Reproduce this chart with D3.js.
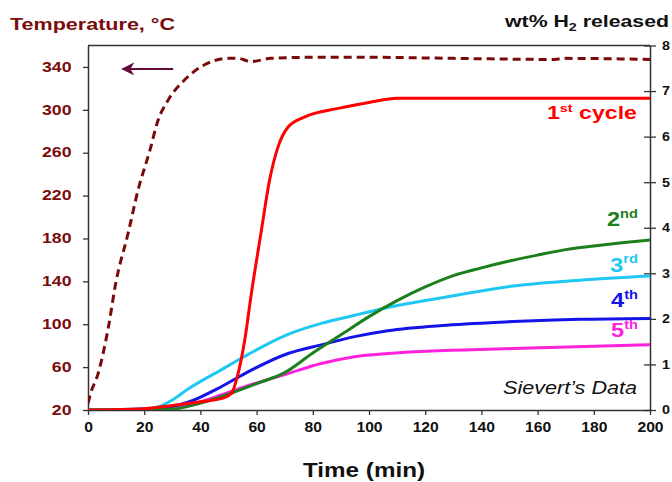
<!DOCTYPE html>
<html><head><meta charset="utf-8">
<script src="https://cdn.jsdelivr.net/npm/d3@7"></script>
<style>body{margin:0;background:#fff}svg{display:block}text{font-family:"Liberation Sans",Arial,sans-serif}</style>
</head><body><svg id="c" width="672" height="482"></svg>
<script>
const xTicks=[0,20,40,60,80,100,120,140,160,180,200];
const tempTicks=[20,60,100,140,180,220,260,300,340];
const wtTicks=[0,1,2,3,4,5,6,7,8];
// Temperature (left axis)
const tempTime=[0,1,3.6,7.1,10,14.2,17.8,22,24.9,28.5,34.4,41.5,49.8,53.4,58,65,80,100,130,165,170,200];
const tempVal=[26,36,54,95,140,184,225,262,290,309,328,342,348,348,345,348,349,349,348,347,348,347];
// wt% H2 released (right axis)
const c1Time=[0,20,30,40,48,51,53,55.8,58,61.6,64.6,67.6,71.2,77,89,100,110,200];
const c1Val=[0,0.03,0.1,0.18,0.26,0.36,0.7,1.54,2.5,3.9,5.04,5.77,6.21,6.43,6.62,6.75,6.84,6.84];
const c2Time=[0,20,30,40,50,60,70,80,90,100,110,120,130,140,150,160,170,180,190,200];
const c2Val=[0,0,0.02,0.15,0.35,0.58,0.82,1.25,1.65,2.05,2.4,2.7,2.95,3.12,3.27,3.4,3.52,3.6,3.67,3.73];
const c3Time=[0,20,25,30,35.6,47.4,55.8,71.2,83,94.9,106.7,127.6,151.3,175,200];
const c3Val=[0,0.02,0.07,0.22,0.46,0.88,1.18,1.66,1.9,2.08,2.25,2.48,2.72,2.85,2.94];
const c4Time=[0,10,23.7,30,35.6,47.4,55.8,71.2,83,94.9,106.7,127.6,151.3,175,200];
const c4Val=[0,0.01,0.04,0.08,0.17,0.51,0.8,1.24,1.43,1.61,1.74,1.86,1.94,1.99,2.01];
const c5Time=[0,20,30,35.6,47.4,55.8,71.2,83,94.9,106.7,151.3,200];
const c5Val=[0,0.01,0.05,0.11,0.33,0.51,0.8,1.02,1.17,1.24,1.35,1.43];

const svg=d3.select("#c");
const L=88,R=650,T=45.5,B=410;
const x=d3.scaleLinear().domain([0,200]).range([L,R]);
const yT=d3.scaleLinear().domain([20,360]).range([B,T]);
const yW=d3.scaleLinear().domain([0,8]).range([B,T]);
const axisCol="#333";
const S=1.18; // horizontal text stretch

svg.append("line").attr("x1",L).attr("x2",R).attr("y1",T).attr("y2",T).attr("stroke",axisCol).attr("stroke-width",1.5);

const gx=svg.append("g").attr("transform",`translate(0,${B})`).call(d3.axisBottom(x).tickValues(xTicks).tickSize(5).tickSizeOuter(0));
gx.selectAll("text").attr("dy",null).attr("y",22.5).attr("font-size",14).attr("font-weight","bold").attr("fill","#111").attr("transform",`scale(1.12,1)`);
const gl=svg.append("g").attr("transform",`translate(${L},0)`).call(d3.axisLeft(yT).tickValues(tempTicks).tickSize(5).tickSizeOuter(0));
gl.selectAll("text").attr("x",-16.5/S).attr("dy","0.28em").attr("font-size",15).attr("font-weight","bold").attr("fill","#7a0c0c").attr("transform",`scale(${S},1)`);
const gr=svg.append("g").attr("transform",`translate(${R},0)`).call(d3.axisRight(yW).tickValues(wtTicks).tickSize(6).tickSizeOuter(0));
gr.selectAll(".tick line").attr("x1",-6);
gr.selectAll("text").attr("x",12/1.1).attr("dy","0.3em").attr("font-size",13).attr("font-weight","bold").attr("fill","#111").attr("transform",`scale(1.1,1)`);
[gx,gl,gr].forEach(g=>{g.select(".domain").attr("stroke",axisCol).attr("stroke-width",1.5);g.selectAll(".tick line").attr("stroke",axisCol).attr("stroke-width",1.3);});

svg.append("defs").append("clipPath").attr("id","pc").append("rect").attr("x",L).attr("y",T-3).attr("width",R-L).attr("height",B-T+3);
const plot=svg.append("g").attr("clip-path","url(#pc)");
function draw(tA,vA,y,col,w,dash){
  const line=d3.line().x(d=>x(d[0])).y(d=>y(d[1])).curve(d3.curveMonotoneX);
  plot.append("path").datum(tA.map((t,i)=>[t,vA[i]])).attr("d",line).attr("fill","none").attr("stroke",col).attr("stroke-width",w).attr("stroke-dasharray",dash||null);
}
draw(c5Time,c5Val,yW,"#ff22dd",3);
draw(c4Time,c4Val,yW,"#1414e8",3);
draw(c3Time,c3Val,yW,"#1ec8f2",3);
draw(c2Time,c2Val,yW,"#1b801b",3);
draw(c1Time,c1Val,yW,"#ff0000",3);
draw(tempTime,tempVal,yT,"#7a0a0a",3,"8,5");

// arrow
svg.append("defs").append("marker").attr("id","ah").attr("viewBox","0 0 10 10").attr("refX",9).attr("refY",5).attr("markerWidth",6.5).attr("markerHeight",6.5).attr("orient","auto")
 .append("path").attr("d","M0,0L10,5L0,10L3,5Z").attr("fill","#660a3c");
svg.append("line").attr("x1",x(30.3)).attr("x2",x(12.3)).attr("y1",yT(340)+2).attr("y2",yT(340)+2).attr("stroke","#660a3c").attr("stroke-width",2).attr("marker-end","url(#ah)");

function fit(sel,len){return sel.attr("textLength",len).attr("lengthAdjust","spacingAndGlyphs");}
// titles
fit(svg.append("text").attr("x",10).attr("y",30).attr("font-size",16.5).attr("font-weight","bold").attr("fill","#7a0c0c").text("Temperature, °C"),165);
const wt=svg.append("text").attr("x",505).attr("y",27).attr("font-size",16.5).attr("font-weight","bold").attr("fill","#111");
wt.append("tspan").text("wt% H");
wt.append("tspan").attr("font-size",11).attr("dy",4).text("2");
wt.append("tspan").attr("dy",-4).text(" released");
fit(wt,164);
fit(svg.append("text").attr("x",303).attr("y",476.5).attr("font-size",21).attr("font-weight","bold").attr("fill","#111").text("Time (min)"),122);
fit(svg.append("text").attr("x",503).attr("y",393.5).attr("font-size",18.5).attr("font-style","italic").attr("fill","#111").text("Sievert’s Data"),134);

function lab(xp,yp,main,sup,rest,col,fs,len){
  const t=svg.append("text").attr("x",xp).attr("y",yp).attr("font-size",fs).attr("font-weight","bold").attr("fill",col);
  t.append("tspan").text(main);
  t.append("tspan").attr("font-size",fs*0.62).attr("dy",-fs*0.4).text(sup);
  if(rest) t.append("tspan").attr("dy",fs*0.4).text(rest);
  fit(t,len);
}
lab(547,119,"1","st"," cycle","#ff0000",18.5,90);
lab(607,226,"2","nd","","#1b801b",21,31);
lab(610,271.5,"3","rd","","#1ec8f2",21,28);
lab(611,307,"4","th","","#1414e8",21,27);
lab(611,337,"5","th","","#ff22dd",21,27);
</script></body></html>
